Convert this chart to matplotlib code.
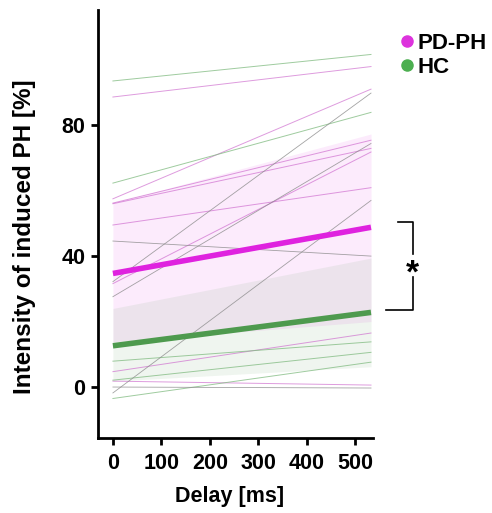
import matplotlib

matplotlib.use("Agg")
import matplotlib.pyplot as plt
from matplotlib.lines import Line2D

plt.rcParams["font.family"] = ["Liberation Sans", "DejaVu Sans"]
plt.rcParams["font.weight"] = "bold"

# delay at which each subject line starts / ends
delay_range = [0, 533]

# individual subjects: (value at 0 ms, value at end)
pd_start = [88.6, 57.5, 56.2, 56.0, 49.5, 31.6, 4.7, 1.8]
pd_end = [97.9, 91.0, 75.4, 72.9, 60.9, 71.8, 16.5, 0.6]
hc_start = [93.5, 62.3, 7.9, 2.1, -3.5]
hc_end = [101.6, 83.9, 13.8, 10.6, 7.6]
other_start = [32.2, 27.6, 44.6, -1.8, 0.0]
other_end = [89.8, 74.4, 40.0, 57.0, -0.3]

# group fits: mean line and band (lower, upper) at start / end
pd_mean = [34.7, 48.8]
pd_lo = [13.8, 20.0]
pd_hi = [56.2, 77.3]
hc_mean = [12.6, 22.8]
hc_lo = [1.8, 6.2]
hc_hi = [24.0, 39.4]

groups = ["PD-PH", "HC"]
pd_color = "#df22df"
hc_color = "#4e9a4e"

fig = plt.figure(figsize=(4.92, 5.13), dpi=100)
ax = fig.add_axes([0.199, 0.146, 0.559, 0.834])

ax.fill_between(delay_range, pd_lo, pd_hi, color=pd_color, alpha=0.09, lw=0)
ax.fill_between(delay_range, hc_lo, hc_hi, color=hc_color, alpha=0.09, lw=0)

for s, e in zip(pd_start, pd_end):
    ax.plot(delay_range, [s, e], color="#cc66cc", lw=0.7, alpha=0.65)
for s, e in zip(hc_start, hc_end):
    ax.plot(delay_range, [s, e], color="#7fba7f", lw=0.7, alpha=0.75)
for s, e in zip(other_start, other_end):
    ax.plot(delay_range, [s, e], color="#8c8c8c", lw=0.6, alpha=0.8)

ax.plot(delay_range, pd_mean, color=pd_color, lw=4.0, solid_capstyle="butt")
ax.plot(delay_range, hc_mean, color=hc_color, lw=4.0, solid_capstyle="butt")

ax.set_xlim(-31, 537)
ax.set_ylim(-15.6, 115.1)
ax.set_xticks([0, 100, 200, 300, 400, 500])
ax.set_yticks([0, 40, 80])
for sp in ["top", "right"]:
    ax.spines[sp].set_visible(False)
for sp in ["left", "bottom"]:
    ax.spines[sp].set_linewidth(2.0)
ax.tick_params(width=2.0, length=5, labelsize=15.5)
ax.tick_params(axis="x", pad=6)
ax.tick_params(axis="y", pad=4)
for lab in ax.get_xticklabels() + ax.get_yticklabels():
    lab.set_fontweight("bold")

ax.set_xlabel("Delay [ms]", fontsize=15.5, fontweight="bold")
ax.xaxis.set_label_coords(0.477, -0.113)
ax.set_ylabel("Intensity of induced PH [%]", fontsize=17.5, fontweight="bold")
ax.yaxis.set_label_coords(-0.225, 0.47)

# significance bracket
bx = 619
ax.plot([588, bx, bx], [50.5, 50.5, 40.5], color="black", lw=1.2, clip_on=False)
ax.plot([565, bx, bx], [23.5, 23.5, 33.5], color="black", lw=1.2, clip_on=False)
ax.text(bx, 34.5, "*", fontsize=24, fontweight="bold", ha="center", va="center",
        clip_on=False)

handles = [
    Line2D([], [], marker="o", ls="none", color="#dd33dd", markersize=8),
    Line2D([], [], marker="o", ls="none", color="#4caf50", markersize=8),
]
fig.legend(handles, groups, loc="upper left", bbox_to_anchor=(0.786, 0.953),
           frameon=False, handletextpad=0.0, labelspacing=0.12,
           borderaxespad=0, handlelength=1.0, prop={"weight": "bold", "size": 16})

fig.savefig("out.png", dpi=100)
